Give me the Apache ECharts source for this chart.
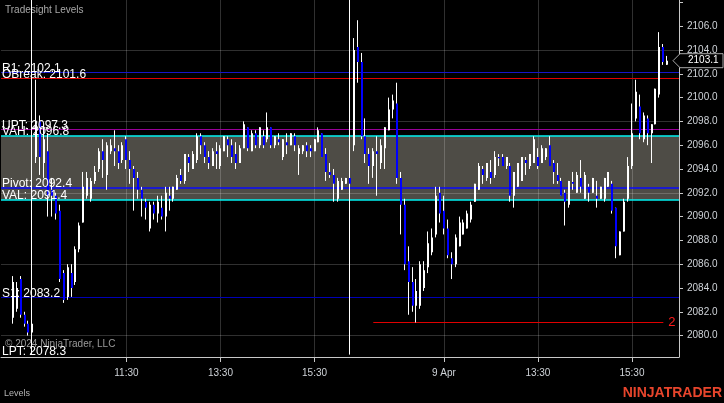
<!DOCTYPE html>
<html><head><meta charset="utf-8">
<script src="https://cdn.jsdelivr.net/npm/echarts@6/dist/echarts.min.js"></script>
<style>html,body{margin:0;padding:0;background:#000;}#c{width:724px;height:403px;}</style>
</head><body><div id="c"></div>
<script>
// ---- sessions (5-minute bars) ----
const sessionDays = ['Apr 8', 'Apr 9'];
const sessionStart = ['08:50', '09:35'];
const sessionBars = [90, 81];
const padBars = 3;
const labelTimes = ['11:30', '13:30', '15:30'];
const dayLabel = {'Apr 9 11:30': '9 Apr'};
const maxPriceLabel = 2106;

// ---- OHLC values (null = no bar) ----
const opens = [null,null,null,
2081.5,2082.25,2084.75,2081.75,2081.0,2080.25,2095.0,2098.0,2094.5,2095.5,2092.25,2091.75,2090.5,2085.25,2083.25,2085.25,2084.5,2087.25,
2089.5,2091.75,2091.5,2093.0,2094.0,2095.5,2093.5,2095.5,2095.75,2095.5,2094.75,2096.5,2094.75,2094.0,2093.25,2092.25,2091.25,2089.0,2091.0,2090.25,
2090.75,2090.0,2091.75,2091.5,2092.25,2093.5,2093.0,2095.0,2094.0,2094.75,2096.75,2096.0,2095.0,2094.25,2095.5,2094.25,2095.5,2096.5,2096.0,2095.25,
2094.5,2095.75,2097.5,2095.5,2097.0,2096.0,2096.75,2096.5,2097.5,2096.0,2096.5,2095.0,2096.25,2096.0,2096.75,2095.25,2095.5,2096.0,2095.75,2095.5,
2096.25,2097.0,2095.25,2093.75,2093.5,2091.5,2092.25,2092.75,2093.25,
2096.0,2104.25,2103.0,2096.75,2095.25,2094.25,2095.5,2094.5,2095.75,2097.25,2099.0,2099.5,2093.25,2091.0,2086.25,2084.5,2082.5,2082.5,2084.0,2085.75,
2087.0,2088.5,2092.0,2090.5,2089.0,2086.5,2086.0,2087.5,2088.5,2089.0,2089.75,2091.25,2092.25,2094.0,2093.25,2093.75,2093.5,2095.0,2095.0,2094.25,
2094.25,2091.75,2092.5,2093.0,2094.75,2094.25,2094.5,2095.0,2094.5,2095.0,2096.0,2094.5,2093.5,2093.0,2092.0,2091.0,2092.9,2092.0,2093.25,2091.5,
2092.5,2092.0,2091.75,2091.5,2091.5,2092.5,2092.75,2090.75,2086.75,2088.75,2091.5,2094.25,2098.25,2099.25,2096.5,2098.25,2097.0,2097.75,2100.25,2104.25,2102.75];
const closes = [null,null,null,
2084.5,2084.0,2081.75,2081.0,2080.25,2081.0,2097.75,2095.0,2096.5,2091.75,2091.75,2090.25,2084.75,2083.0,2085.75,2084.0,2087.25,2089.25,
2092.5,2093.25,2093.0,2093.75,2095.5,2094.75,2096.0,2096.0,2095.5,2094.5,2096.0,2094.75,2094.0,2093.25,2092.25,2091.5,2090.75,2091.0,2090.25,2091.25,
2090.0,2092.0,2091.5,2092.5,2093.25,2093.0,2095.25,2094.5,2095.25,2096.75,2096.0,2095.0,2094.5,2095.5,2095.25,2095.75,2096.75,2096.0,2095.0,2094.5,
2095.75,2097.75,2095.75,2097.0,2096.0,2097.5,2096.0,2097.5,2096.0,2096.75,2096.25,2096.5,2096.0,2097.0,2096.0,2095.75,2096.0,2095.5,2095.5,2096.5,
2097.25,2095.0,2093.75,2093.5,2092.75,2093.0,2093.0,2093.25,2092.75,
2104.0,2103.0,2096.75,2095.25,2094.25,2095.5,2095.25,2096.0,2097.5,2099.0,2099.75,2093.25,2091.0,2086.0,2084.5,2082.5,2083.75,2086.0,2085.5,2087.75,
2088.25,2091.75,2090.25,2089.0,2086.75,2086.0,2088.25,2089.5,2089.5,2090.25,2091.0,2092.75,2094.25,2093.5,2094.5,2093.25,2095.0,2094.9,2094.25,2095.0,
2091.75,2093.75,2094.5,2095.0,2094.5,2095.25,2096.5,2094.25,2095.75,2095.75,2094.25,2093.75,2093.0,2091.75,2091.25,2093.0,2092.75,2093.5,2092.5,2093.5,
2092.0,2093.25,2091.5,2092.5,2093.25,2093.75,2090.5,2087.5,2088.75,2091.25,2094.25,2097.0,2100.5,2097.0,2098.5,2097.0,2097.75,2100.75,2104.25,2103.0,2103.1];
const lows = [null,null,null,
2081.0,2082.0,2081.5,2080.75,2080.0,2078.4,2094.5,2093.5,2093.25,2090.0,2090.0,2089.75,2084.5,2082.75,2083.0,2083.25,2084.25,2087.0,
2089.5,2091.5,2091.25,2092.75,2093.75,2093.25,2092.25,2095.25,2094.25,2094.0,2094.5,2094.0,2092.75,2090.5,2091.5,2090.0,2089.75,2088.75,2089.75,2089.5,
2089.75,2088.75,2090.5,2091.25,2092.25,2092.75,2092.75,2093.75,2094.0,2094.5,2095.25,2094.5,2094.0,2094.25,2094.0,2094.0,2095.5,2095.0,2094.5,2094.0,
2094.5,2095.75,2095.5,2095.5,2095.75,2095.75,2095.75,2096.25,2095.75,2095.75,2096.0,2094.75,2095.25,2096.0,2095.5,2093.5,2095.25,2095.0,2095.0,2095.5,
2096.25,2095.0,2093.0,2093.25,2091.25,2091.25,2092.25,2092.75,2078.4,
2095.5,2101.25,2096.5,2094.5,2092.75,2093.25,2091.75,2094.0,2094.0,2097.25,2098.25,2092.75,2088.5,2085.5,2081.75,2082.0,2081.1,2082.25,2083.75,2085.25,
2086.75,2088.25,2089.5,2088.5,2086.5,2084.75,2085.75,2087.5,2088.5,2089.0,2089.5,2091.25,2092.25,2092.75,2093.0,2092.75,2093.25,2094.25,2094.25,2094.0,
2091.25,2090.75,2092.5,2093.0,2093.5,2094.0,2094.5,2094.0,2094.5,2094.75,2094.25,2092.75,2092.75,2091.75,2089.25,2090.75,2092.25,2092.0,2092.0,2091.5,
2091.25,2092.0,2090.75,2091.5,2091.25,2092.5,2090.25,2086.5,2086.75,2088.75,2091.25,2094.0,2098.0,2096.5,2096.25,2096.0,2094.5,2097.75,2100.0,2102.75,2102.75];
const highs = [null,null,null,
2085.0,2084.5,2085.0,2082.0,2081.25,2110.0,2101.5,2098.5,2097.75,2097.0,2093.25,2092.0,2091.0,2085.5,2086.0,2086.0,2087.5,2089.5,
2093.75,2093.75,2093.25,2094.25,2095.75,2096.5,2096.25,2096.5,2097.25,2096.0,2096.25,2096.75,2095.5,2094.25,2093.75,2092.5,2091.5,2091.25,2091.25,2091.75,
2091.75,2092.5,2092.5,2092.5,2093.5,2094.0,2095.25,2095.25,2095.5,2097.0,2097.0,2096.25,2095.5,2095.75,2096.25,2096.0,2096.75,2096.75,2096.5,2096.25,
2096.0,2098.0,2097.5,2097.25,2097.25,2097.5,2097.25,2098.75,2097.5,2096.75,2097.0,2096.5,2097.0,2097.0,2097.0,2096.0,2096.0,2096.25,2096.0,2096.5,
2097.5,2097.0,2095.75,2094.5,2094.0,2093.25,2093.25,2093.25,2110.0,
2105.0,2106.5,2103.75,2098.25,2095.75,2095.75,2096.75,2096.5,2097.5,2100.0,2100.25,2101.25,2093.75,2091.5,2087.5,2085.75,2084.75,2086.25,2086.25,2088.75,
2089.0,2092.5,2092.5,2091.75,2089.75,2087.0,2088.5,2090.0,2089.75,2090.5,2091.25,2092.75,2094.5,2094.25,2094.5,2094.75,2095.5,2095.25,2095.25,2095.0,
2094.5,2093.75,2094.5,2095.0,2095.0,2095.25,2096.75,2095.75,2096.0,2095.75,2096.75,2094.75,2094.5,2093.25,2092.25,2093.0,2093.75,2093.75,2094.75,2093.75,
2092.75,2093.25,2093.0,2092.5,2093.25,2093.75,2093.0,2090.75,2088.75,2091.5,2095.0,2099.5,2101.5,2100.25,2098.75,2098.5,2097.75,2100.75,2105.5,2104.5,2103.5];

// ---- indicator levels ----
const levelNames = ['R1', 'OBreak', 'UPT', 'VAH', 'Pivot', 'VAL', 'S1', 'LPT'];
const levelValues = [2102.1, 2101.6, 2097.3, 2096.8, 2092.4, 2091.4, 2083.2, 2078.3];
const gridLevels = [2080, 2086, 2092, 2098, 2104];
const lowLineValue = 2081.1;
const lowLineLabel = '2';
const lowLineBars = [95, 169];

// ---- styles ----
const levelStyle = {
  R1: {color: '#1515c8', width: 1}, OBreak: {color: '#e00000', width: 1},
  UPT: {color: '#990099', width: 1}, VAH: {color: '#00f0f0', width: 1.5},
  Pivot: {color: '#0a0aff', width: 1.5}, VAL: {color: '#00f0f0', width: 1.5},
  S1: {color: '#0000b8', width: 1}, LPT: {color: 'rgba(0,0,0,0)', width: 1}
};
const FONT = "'Liberation Sans', Arial, sans-serif";
const GRIDCOL = 'rgba(255,255,255,0.19)';
const gridLeft = 1, gridRight = 45, gridTop = 0, gridBottom = 46;

// ---- categories ----
const categories = [];
function addSession(day, start, count) {
  let [h, m] = start.split(':').map(Number);
  for (let k = 0; k < count; k++) {
    categories.push(day + ' ' + String(h).padStart(2, '0') + ':' + String(m).padStart(2, '0'));
    m += 5; if (m >= 60) { m -= 60; h += 1; }
  }
}
addSession(sessionDays[0], sessionStart[0], sessionBars[0]);
addSession(sessionDays[1], sessionStart[1], sessionBars[1] + padBars);
const timeOf = v => v.slice(-5);
const showLabel = (idx, v) => labelTimes.indexOf(timeOf(v)) >= 0;

const candleData = [];
for (let i = 0; i < opens.length; i++) {
  if (opens[i] == null) continue;
  candleData.push([i, opens[i], closes[i], lows[i], highs[i]]);
}

const chart = echarts.init(document.getElementById('c'), null, {renderer: 'canvas'});

function renderCandle(params, api) {
  const i = api.value(0), o = api.value(1), c = api.value(2), l = api.value(3), h = api.value(4);
  const pH = api.coord([i, h]), pL = api.coord([i, l]);
  const pO = api.coord([i, o]), pC = api.coord([i, c]);
  const xr = Math.round(pH[0]);
  const up = c >= o;
  const top = Math.min(pO[1], pC[1]);
  const hgt = Math.max(1, Math.abs(pO[1] - pC[1]));
  return {
    type: 'group',
    children: [
      {type: 'line', shape: {x1: xr - 0.5, y1: pH[1], x2: xr - 0.5, y2: pL[1]},
       style: {stroke: '#ffffff', lineWidth: 1}},
      {type: 'rect', shape: {x: xr - 1, y: top, width: 2, height: hgt},
       style: {fill: up ? '#ffffff' : '#0000ff'}}
    ]
  };
}

const option = {
  backgroundColor: '#000000',
  animation: false,
  grid: {left: gridLeft, right: gridRight, top: gridTop, bottom: gridBottom},
  xAxis: {
    type: 'category', data: categories, boundaryGap: false,
    axisLine: {show: true, lineStyle: {color: '#c8c8c8', width: 1}},
    axisTick: {show: true, interval: showLabel, length: 5, lineStyle: {color: '#c8c8c8'}},
    axisLabel: {interval: showLabel, color: '#cfd3d8', fontSize: 10, fontFamily: FONT, margin: 11,
      formatter: v => dayLabel[v] || timeOf(v)},
    splitLine: {show: true, interval: showLabel, lineStyle: {color: GRIDCOL, width: 1}}
  },
  yAxis: {
    type: 'value', position: 'right', min: 2078.2, max: 2108.2, splitNumber: 15, scale: true,
    axisLine: {show: true, lineStyle: {color: '#c8c8c8', width: 1}},
    axisTick: {show: true, length: 4, lineStyle: {color: '#c8c8c8'}},
    axisLabel: {color: '#cfd3d8', fontSize: 10, fontFamily: FONT, margin: 8,
      showMinLabel: false, showMaxLabel: false,
      formatter: v => (v > maxPriceLabel ? '' : v.toFixed(1))},
    splitLine: {show: false}
  },
  series: [
    { // value-area band + grid lines
      type: 'line', data: [], silent: true,
      markArea: {silent: true, z: -1, itemStyle: {color: '#4e4c46'},
        data: [[{yAxis: levelValues[levelNames.indexOf('VAL')]}, {yAxis: levelValues[levelNames.indexOf('VAH')]}]]},
      markLine: {silent: true, z: 0, symbol: 'none', label: {show: false},
        lineStyle: {color: GRIDCOL, width: 1, type: 'solid'},
        data: gridLevels.map(v => ({yAxis: v}))}
    },
    { // level lines
      type: 'line', data: [], silent: true,
      markLine: {silent: true, z: 1, symbol: 'none', precision: 2,
        data: levelNames.map((n, k) => ({yAxis: levelValues[k], label: {show: false},
          lineStyle: {color: levelStyle[n].color, width: levelStyle[n].width, type: 'solid'}}))
          .concat([[
            {coord: [categories[lowLineBars[0]], lowLineValue], lineStyle: {color: '#e00000', width: 1, type: 'solid'},
             label: {show: true, position: 'end', formatter: lowLineLabel, color: '#ff1a1a', fontSize: 13, fontFamily: FONT, distance: 5}},
            {coord: [categories[lowLineBars[1]], lowLineValue]}
          ]])}
    },
    {
      type: 'custom', renderItem: renderCandle, data: candleData, z: 2, clip: true,
      encode: {x: 0, y: [1, 2, 3, 4]}
    },
    { // level labels on top
      type: 'line', data: [], silent: true,
      markLine: {silent: true, z: 10, symbol: 'none',
        lineStyle: {color: 'rgba(0,0,0,0)', width: 1},
        data: levelNames.map((n, k) => ({yAxis: levelValues[k],
          lineStyle: {color: 'rgba(0,0,0,0)', width: 1},
          label: {show: true, position: 'insideStartTop', formatter: n + ': ' + levelValues[k].toFixed(1),
            color: '#ffffff', fontSize: 12, fontFamily: FONT, distance: [1, -2]}}))}
    }
  ]
};
chart.setOption(option);

const lastClose = closes[closes.length - 1];
const yLast = chart.convertToPixel({yAxisIndex: 0}, lastClose);
const axisX = 724 - gridRight;
chart.setOption({
  graphic: [
    {type: 'text', left: 5, top: 5, style: {text: 'Tradesight Levels', fill: '#a8a8a8', font: '10px ' + FONT}},
    {type: 'text', left: 5, top: 339, style: {text: '\u00a9 2024 NinjaTrader, LLC', fill: '#9a9a9a', font: '10px ' + FONT}},
    {type: 'text', left: 4, top: 389, style: {text: 'Levels', fill: '#b4b4b4', font: '9px ' + FONT}},
    {type: 'text', right: 2, top: 386, style: {text: 'NINJATRADER', fill: '#e8452c', font: 'bold 14px ' + FONT}},
    {type: 'polygon', z: 100,
     shape: {points: [[axisX - 6, yLast], [axisX + 1, yLast - 7], [723, yLast - 7], [723, yLast + 7], [axisX + 1, yLast + 7]]},
     style: {fill: '#000000', stroke: '#a8a8a8', lineWidth: 1}},
    {type: 'text', z: 101, x: axisX + 9, y: yLast, style: {text: lastClose.toFixed(1), fill: '#ffffff',
      font: '10px ' + FONT, textVerticalAlign: 'middle', verticalAlign: 'middle'}}
  ]
});
</script>
</body></html>
